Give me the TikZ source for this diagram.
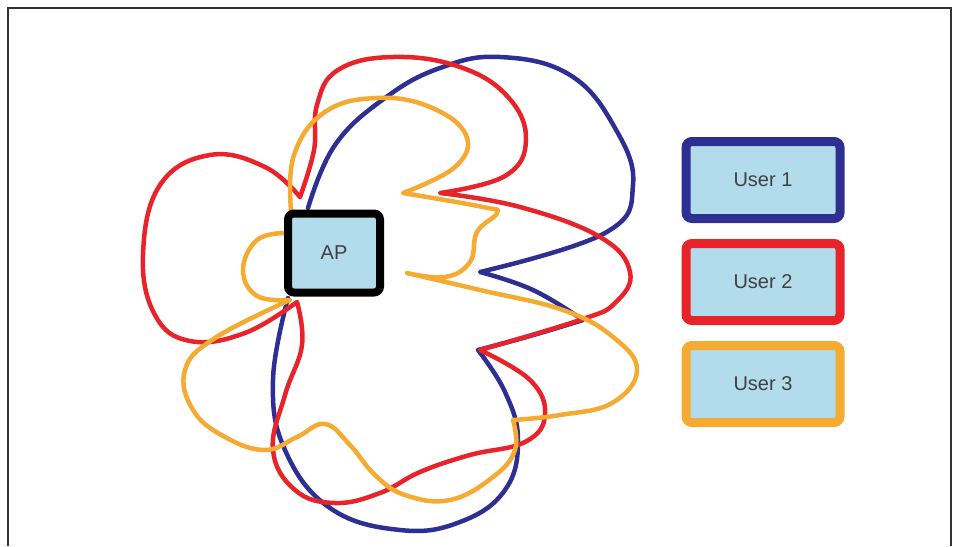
\documentclass[tikz,border=0pt]{standalone}
\usepackage{fontspec}
\setsansfont{Liberation Sans}
\usetikzlibrary{positioning}
\definecolor{userblue}{RGB}{46,47,146}
\definecolor{userred}{RGB}{232,35,42}
\definecolor{useryellow}{RGB}{245,170,50}
\definecolor{boxfill}{RGB}{178,220,235}
\tikzset{
  frame/.style={draw=black!80, line width=2pt},
  lobe/.style={line width=4.5pt, line join=round, line cap=round},
  user1/.style={lobe, draw=userblue},
  user2/.style={lobe, draw=userred},
  user3/.style={lobe, draw=useryellow},
  box/.style={
    rectangle,
    rounded corners=6pt,
    fill=boxfill,
    text=black!75,
    font=\sffamily\fontsize{20}{24}\selectfont},
  apbox/.style={box, draw=black, line width=8pt,
    minimum width=92pt, minimum height=79pt},
  userbox/.style={box, draw=#1, line width=9pt,
    minimum width=154pt, minimum height=77pt},
}

\begin{document}
\begin{tikzpicture}[x=1pt, y=-1pt, smooth, tension=0.7]
  \useasboundingbox (0,0) rectangle (958,546);
  \draw[frame] (8,546) -- (8,8) -- (951,8) -- (951,546);

  % user 1
  \draw[user1] plot coordinates {(308,208) (335,145) (385,98) (440,68) (500,57) (570,75) (615,128) (633,185) (605,233) (480,272)}
    -- plot coordinates {(480,272) (533,290) (583,320)}
    -- plot coordinates {(583,320) (530,336) (478,350)}
    -- plot coordinates {(478,350) (505,392) (518,440) (505,490) (460,522) (400,530) (330,508) (285,450) (273,380) (288,298)};
  % user 2
  \draw[user2] plot coordinates {(300,197) (314,150) (317,105) (338,70) (393,57) (460,67) (508,97) (526,140) (505,176) (440,193)}
    -- plot coordinates {(440,193) (520,207) (600,237) (630,272) (615,303) (580,320) (480,350)}
    -- plot coordinates {(480,350) (530,380) (545,415) (525,442) (470,455) (420,472) (380,493) (335,503) (295,490) (273,450) (285,395) (302,345) (297,302)}
    -- plot coordinates {(297,302) (245,333) (190,341) (155,315) (143,255) (160,185) (210,155) (265,167) (300,197)};
  % user 3
  \draw[user3] plot coordinates {(291,210) (294,155) (325,112) (377,98) (430,107) (466,135) (455,167) (403,193)}
    -- plot coordinates {(403,193) (483,207) (497,213) (477,232) (470,262) (445,277) (407,273)}
    -- plot coordinates {(407,273) (480,290) (563,310) (613,337) (637,370) (612,403) (560,415) (513,420)}
    -- plot coordinates {(513,420) (515,450) (493,477) (450,500) (405,495) (375,475) (350,445) (325,424) (297,437) (265,450) (225,437) (193,410) (185,370) (215,338) (290,300)}
    -- plot coordinates {(290,300) (257,296) (243,270) (257,240) (285,233)};

  \node[apbox] (ap) at (334,253) {AP};
  \node[userbox=userblue] (user1) at (763,180) {User 1};
  \node[userbox=userred, below=16pt of user1] (user2) {User 2};
  \node[userbox=useryellow, below=16pt of user2] (user3) {User 3};
\end{tikzpicture}
\end{document}
